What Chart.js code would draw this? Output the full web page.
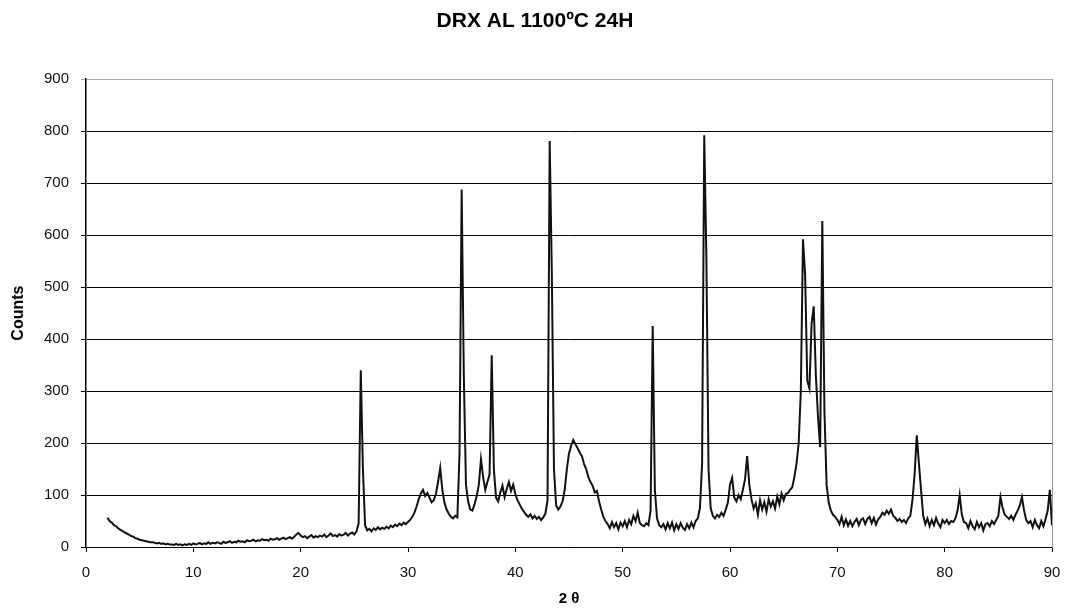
<!DOCTYPE html>
<html>
<head>
<meta charset="utf-8">
<script src="https://cdn.jsdelivr.net/npm/chart.js@4/dist/chart.umd.min.js"></script>
<style>
  html, body { margin: 0; padding: 0; background: #fff; }
  #wrap { width: 1070px; height: 610px; }
</style>
</head>
<body>
<div id="wrap"><canvas id="drx"></canvas></div>
<script>
// 2-theta scan from 2 to 90 degrees, one reading every 0.2 degrees
var startAngle = 2;
var stepAngle = 0.2;
var counts = [
  56, 50, 47, 42, 40, 36, 33, 31, 28, 26,          // 2.0
  24, 21, 20, 17, 16, 14, 13, 12, 11, 10,          // 4.0
  9, 9, 8, 7, 8, 6, 7, 5, 6, 5,                    // 6.0
  5, 4, 6, 4, 5, 3, 5, 4, 6, 4,                    // 8.0
  7, 5, 6, 8, 5, 7, 6, 9, 6, 8,                    // 10.0
  7, 9, 8, 6, 10, 8, 9, 11, 8, 10,                 // 12.0
  9, 12, 10, 11, 9, 13, 11, 12, 14, 11,            // 14.0
  13, 12, 15, 13, 14, 12, 16, 14, 15, 17,          // 16.0
  14, 16, 18, 15, 17, 19, 16, 20, 24, 27,          // 18.0
  22, 19, 21, 17, 20, 23, 18, 21, 19, 22,          // 20.0
  20, 24, 19, 22, 26, 21, 23, 20, 25, 22,          // 22.0
  24, 27, 22, 26, 28, 24, 30, 45, 340, 150,        // 24.0
  42, 32, 35, 30, 36, 33, 38, 34, 37, 35,          // 26.0
  39, 36, 41, 38, 43, 40, 45, 42, 47, 44,          // 28.0
  48, 52, 58, 66, 78, 92, 103, 110, 98, 104,       // 30.0
  95, 86, 90, 102, 125, 152, 110, 85, 72, 64,      // 32.0
  58, 55, 60, 57, 180, 688, 330, 120, 88, 72,      // 34.0
  70, 82, 98, 120, 169, 135, 110, 125, 140, 369,   // 36.0
  150, 95, 88, 105, 118, 96, 112, 125, 108, 120,   // 38.0
  102, 90, 82, 74, 68, 62, 58, 63, 55, 60,         // 40.0
  54, 58, 52, 57, 64, 90, 781, 527, 150, 80,       // 42.0
  72, 78, 88, 110, 150, 180, 195, 206, 198, 190,   // 44.0
  182, 175, 160, 150, 135, 125, 118, 105, 108, 88, // 46.0
  72, 58, 50, 44, 36, 48, 38, 46, 34, 47,          // 48.0
  40, 50, 38, 52, 44, 60, 50, 66, 46, 42,          // 50.0
  40, 46, 42, 70, 425, 110, 55, 42, 38, 44,        // 52.0
  34, 46, 36, 47, 32, 44, 35, 46, 37, 33,          // 54.0
  44, 36, 47, 38, 50, 55, 75, 160, 792, 558,       // 56.0
  150, 75, 60, 55, 62, 58, 66, 60, 72, 85,         // 58.0
  120, 133, 95, 88, 100, 92, 110, 130, 175, 120,   // 60.0
  92, 74, 84, 62, 90, 72, 86, 68, 92, 78,          // 62.0
  88, 74, 97, 82, 103, 90, 102, 104, 110, 115,     // 64.0
  135, 161, 200, 300, 592, 523, 320, 305, 430, 463, // 66.0
  330, 250, 192, 627, 260, 120, 85, 70, 62, 58,    // 68.0
  52, 44, 58, 42, 53, 41, 50, 40, 48, 54,          // 70.0
  42, 52, 55, 44, 54, 58, 46, 56, 43, 53,          // 72.0
  58, 66, 62, 70, 64, 72, 60, 56, 50, 54,          // 74.0
  48, 52, 46, 55, 60, 90, 140, 215, 161, 110,      // 76.0
  60, 44, 55, 40, 52, 42, 56, 45, 38, 52,          // 78.0
  46, 52, 44, 50, 48, 55, 70, 100, 62, 48,         // 80.0
  46, 36, 50, 40, 34, 48, 38, 46, 32, 44,          // 82.0
  46, 40, 50, 44, 52, 60, 96, 75, 62, 58,          // 84.0
  54, 60, 52, 62, 70, 80, 96, 70, 52, 46,          // 86.0
  50, 38, 52, 42, 36, 50, 40, 54, 70, 110,         // 88.0
  42                                               // 90.0
];
var xTicks = [0, 10, 20, 30, 40, 50, 60, 70, 80, 90];
var yTicks = [0, 100, 200, 300, 400, 500, 600, 700, 800, 900];

var points = counts.map(function (c, i) {
    return { x: +(startAngle + i * stepAngle).toFixed(1), y: c };
});

var font = "'Liberation Sans', Arial, sans-serif";
Chart.defaults.font.family = font;
Chart.defaults.color = '#111';

var ctx = document.getElementById('drx').getContext('2d');
new Chart(ctx, {
    type: 'line',
    data: {
        datasets: [{
            label: 'DRX',
            data: points,
            borderColor: '#111',
            borderWidth: 2,
            pointRadius: 0,
            tension: 0,
            fill: false
        }]
    },
    options: {
        responsive: true,
        maintainAspectRatio: false,
        animation: false,
        layout: { padding: { left: 0, right: 0, top: 0, bottom: 0 } },
        plugins: {
            legend: { display: false },
            tooltip: { enabled: false },
            title: {
                display: true,
                text: 'DRX AL 1100ºC 24H',
                font: { size: 21, weight: 'bold' },
                color: '#000',
                padding: { top: 9, bottom: 45 }
            }
        },
        scales: {
            x: {
                type: 'linear',
                min: xTicks[0],
                max: xTicks[xTicks.length - 1],
                afterBuildTicks: function (scale) {
                    scale.ticks = xTicks.map(function (v) { return { value: v }; });
                },
                afterFit: function (scale) {
                    scale.height = 63;
                    // keep the plot edges where the side axes put them
                    scale.paddingLeft = 0;
                    scale.paddingRight = 0;
                },
                ticks: { font: { size: 15 }, padding: 12, maxRotation: 0 },
                grid: { drawOnChartArea: false, drawTicks: true, tickLength: 5, color: '#000' },
                border: { color: '#000', width: 1 },
                title: {
                    display: true,
                    text: '2 θ',
                    font: { size: 15, weight: 'bold' },
                    color: '#000',
                    padding: { top: 0, bottom: 2 }
                }
            },
            y: {
                min: yTicks[0],
                max: yTicks[yTicks.length - 1],
                afterBuildTicks: function (scale) {
                    scale.ticks = yTicks.map(function (v) { return { value: v }; });
                },
                afterFit: function (scale) { scale.width = 86; },
                ticks: { font: { size: 15 }, padding: 12 },
                grid: {
                    color: function (c) { return c.tick && c.tick.value === 900 ? '#aaa' : '#000'; },
                    lineWidth: 1,
                    drawTicks: true,
                    tickLength: 5
                },
                border: { color: '#000', width: 1.5 },
                title: {
                    display: true,
                    text: 'Counts',
                    font: { size: 16, weight: 'bold' },
                    color: '#000',
                    padding: { top: 9, bottom: 0 }
                }
            },
            yRight: {
                position: 'right',
                min: 0,
                max: 900,
                afterFit: function (scale) { scale.width = 18; },
                ticks: { display: false },
                grid: { drawOnChartArea: false, drawTicks: false },
                border: { color: '#999', width: 1 }
            }
        }
    }
});
</script>
</body>
</html>
